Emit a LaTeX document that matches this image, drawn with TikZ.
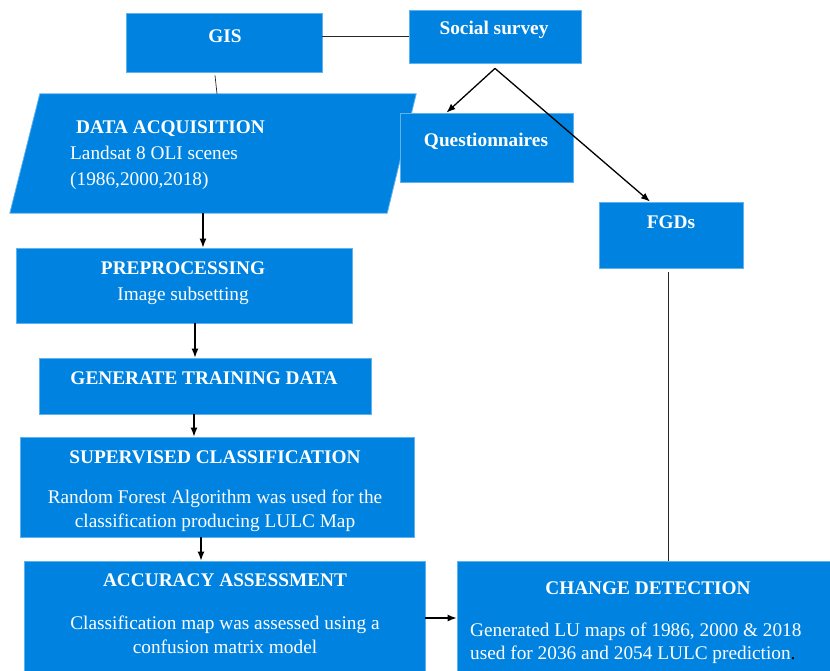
\documentclass[tikz,border=0pt]{standalone}
\usepackage{fontspec}
\setmainfont{Liberation Serif}
\usepackage{tikz}
\usetikzlibrary{arrows.meta}
\definecolor{boxblue}{RGB}{0,131,224}
\definecolor{boxedge}{RGB}{95,178,240}

\begin{document}
\begin{tikzpicture}[x=1pt, y=-1pt]
		\tikzstyle{box}=[rectangle, fill=boxblue, draw=boxedge, line width=0.8pt, inner sep=0pt]
		\tikzstyle{txt}=[text=white, inner sep=0pt, font=\fontsize{19.3}{26}\selectfont]
		\tikzstyle{head}=[txt, font=\fontsize{19.3}{26}\selectfont\bfseries]
		\tikzstyle{connect}=[-{Latex[length=9pt, width=7pt]}, line width=1.3pt]
		\tikzstyle{link}=[line width=0.7pt, draw=black!85]
		\useasboundingbox (0,0) rectangle (830,670);
		\clip (0,0) rectangle (830,670);
		
		% boxes
		\node[box, minimum width=196pt, minimum height=59pt] (gis) at (224,42.5) {};
		\node[box, minimum width=172pt, minimum height=53pt] (survey) at (495,36.5) {};
		\node[inner sep=0pt, minimum width=406pt, minimum height=119pt] (acq) at (213,153.5) {};
		\path[fill=boxblue, draw=boxedge, line width=0.8pt] ([xshift=30pt]acq.north west) -- (acq.north east) -- ([xshift=-29pt]acq.south east) -- (acq.south west) -- cycle;
		\node[box, minimum width=173pt, minimum height=69pt] (quest) at (486.5,147.5) {};
		\node[box, minimum width=144pt, minimum height=66pt] (fgd) at (671,235) {};
		\node[box, minimum width=336pt, minimum height=75pt] (prep) at (184,285.5) {};
		\node[box, minimum width=332pt, minimum height=56pt] (train) at (205,386) {};
		\node[box, minimum width=394pt, minimum height=100pt] (sup) at (217,487) {};
		\node[box, minimum width=401pt, minimum height=139pt] (acc) at (224.5,630.5) {};
		\node[box, minimum width=388pt, minimum height=139pt] (change) at (651,630.5) {};
		
		% texts
		\node[head] (gis-t) at (225,36) {GIS};
		\node[head] (survey-t) at (494,30) {Social survey};
		\node[head] (quest-t) at (486,141) {Questionnaires};
		\node[head] (fgd-t) at (671,222) {FGDs};
		\node[txt, align=left, anchor=west] (acq-t) at (70,155) {\hspace*{6pt}\textbf{DATA ACQUISITION}\\Landsat 8 OLI scenes\\(1986,2000,2018)};
		\node[txt, align=center] (prep-t) at (183,283) {\textbf{PREPROCESSING}\\Image subsetting};
		\node[head] (train-t) at (204,378) {GENERATE TRAINING DATA};
		\node[head] (sup-t) at (215,457) {SUPERVISED CLASSIFICATION};
		\node[txt, align=center, font=\fontsize{19.3}{23.5}\selectfont] (sup-b) at (215,511) {Random Forest Algorithm was used for the\\classification producing LULC Map};
		\node[head] (acc-t) at (225,580) {ACCURACY ASSESSMENT};
		\node[txt, align=center, font=\fontsize{19.3}{24}\selectfont] (acc-b) at (225,635) {Classification map was assessed using a\\confusion matrix model};
		\node[head] (change-t) at (648,588) {CHANGE DETECTION};
		\node[txt, align=left, anchor=west, font=\fontsize{19.3}{22.5}\selectfont] (change-b) at (470,643) {Generated LU maps of 1986, 2000 \& 2018\\used for 2036 and 2054 LULC prediction\textcolor{black}{.}};
		
		% connectors
		\path (survey.west) edge [link] (survey.west -| gis.east);
		\path ([xshift=-9pt, yshift=-3pt]gis.south) edge [link] ([xshift=4pt]acq.north);
		\path ([yshift=-5pt]survey.south) edge [connect] ([xshift=-40pt]quest.north);
		\path ([yshift=-5pt]survey.south) edge [connect] ([xshift=-21pt]fgd.north);
		\path ([xshift=-3pt, yshift=-4pt]fgd.south) edge [link] ([xshift=17pt]change.north);
		
		\path ([xshift=-10pt]acq.south) edge [connect] ([xshift=19pt]prep.north);
		\path ([xshift=11pt]prep.south) edge [connect] ([xshift=-10pt]train.north);
		\path ([xshift=-11pt]train.south) edge [connect] ([xshift=-23pt]sup.north);
		\path ([xshift=-16pt]sup.south) edge [connect] ([xshift=-23.5pt]acc.north);
		\path ([yshift=12.5pt]acc.east) edge [connect] ([yshift=12.5pt]change.west);
		
\end{tikzpicture}
\end{document}
